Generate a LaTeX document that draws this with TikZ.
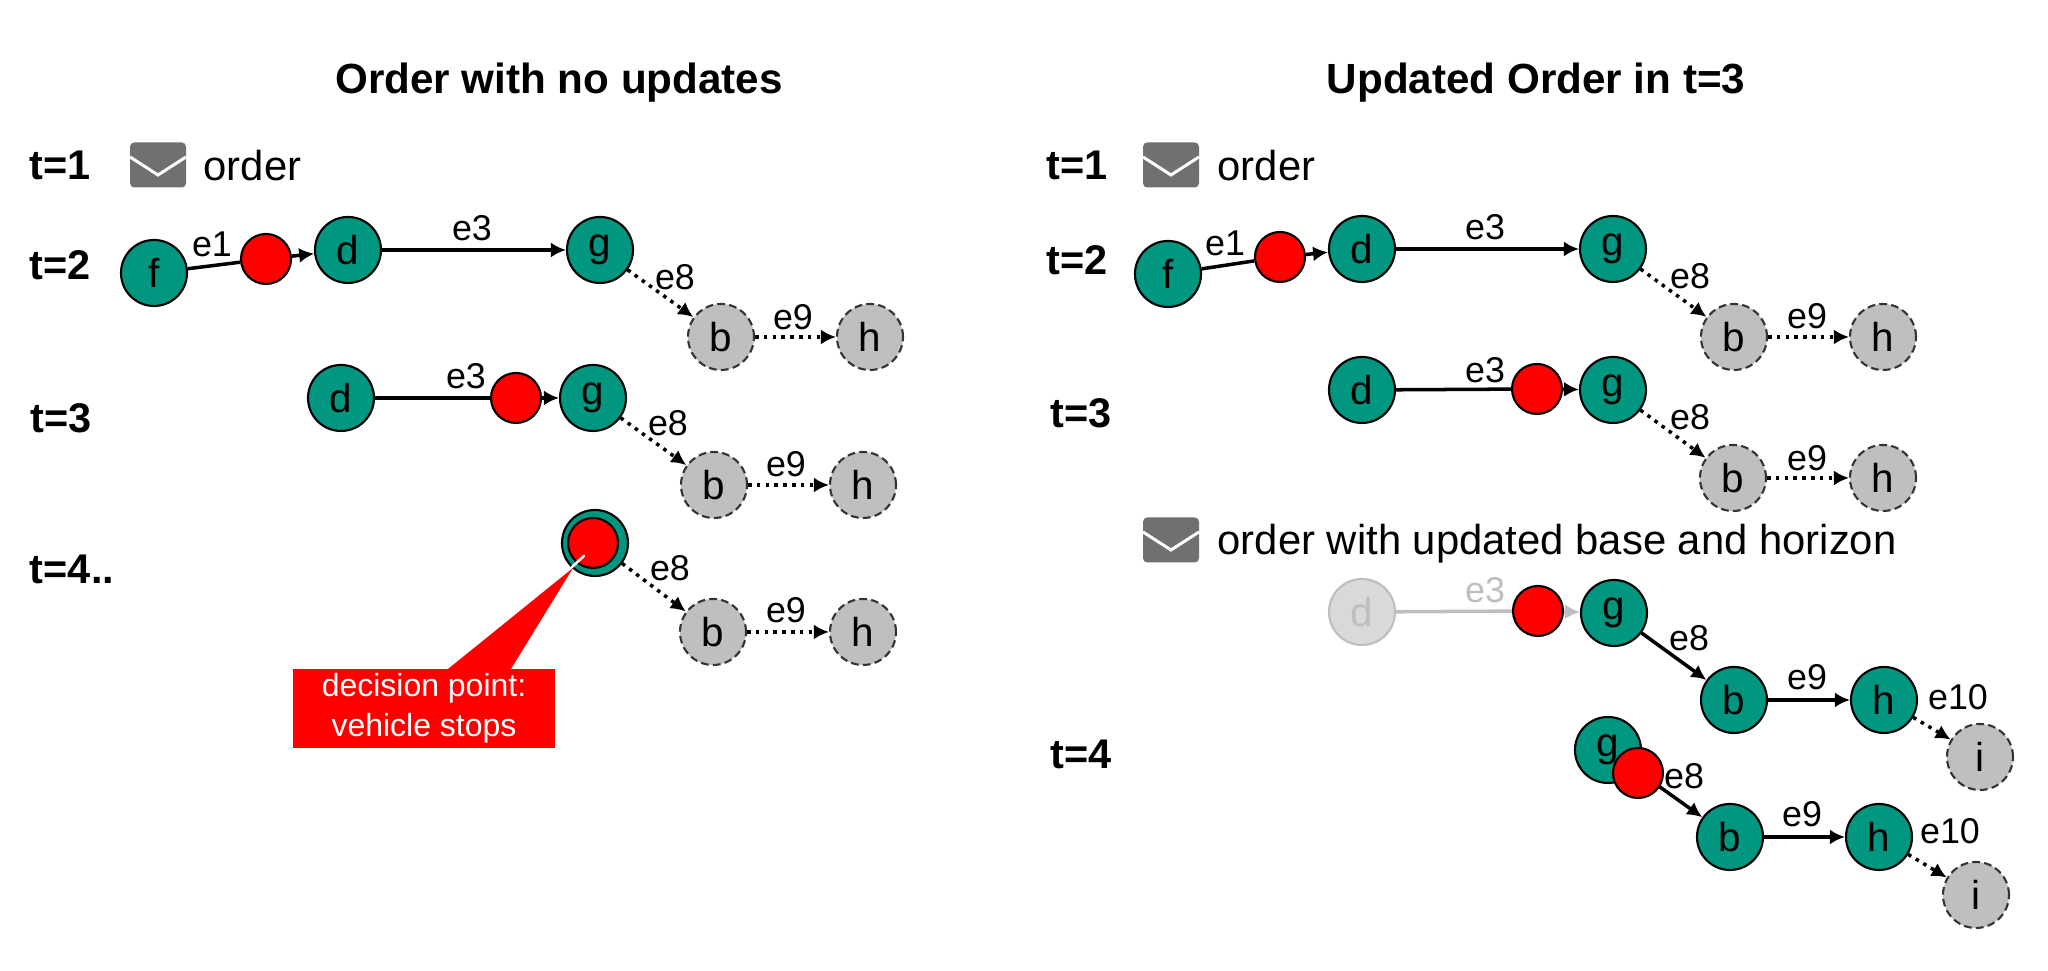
\documentclass[tikz,border=0pt]{standalone}
\usepackage{fontspec}
\setmainfont{Liberation Sans}
\usetikzlibrary{positioning,calc,arrows.meta}

\definecolor{tealnode}{RGB}{0,150,128}
\definecolor{graynode}{RGB}{191,191,191}
\definecolor{mailgray}{RGB}{112,112,112}
\definecolor{fadenode}{RGB}{217,217,217}
\definecolor{fadetext}{RGB}{190,190,190}

\tikzset{
  stop/.style={circle,draw=black,line width=.6pt,fill=tealnode,minimum size=.66cm,inner sep=0pt,font=\fontsize{11.5}{11.5}\selectfont},
  planned/.style={circle,draw=black!80,line width=.6pt,dash pattern=on 2.2pt off 1.2pt,fill=graynode,minimum size=.66cm,inner sep=0pt,font=\fontsize{11.5}{11.5}\selectfont},
  faded/.style={circle,draw=fadetext,line width=.6pt,fill=fadenode,text=fadetext,minimum size=.66cm,inner sep=0pt,font=\fontsize{11.5}{11.5}\selectfont},
  vehicle/.style={circle,draw=black,line width=.6pt,fill=red,minimum size=.5cm,inner sep=0pt},
  leg/.style={line width=1pt},
  legtip/.style={leg,-{Latex[length=1.5mm,width=1.5mm]}},
  legdot/.style={legtip,dash pattern=on 1pt off 1.5pt},
  legfade/.style={draw=fadetext},
  edgelabel/.style={inner sep=0pt,font=\fontsize{10.2}{10.2}\selectfont},
  timelabel/.style={inner sep=0pt,font=\fontsize{11.8}{11.8}\selectfont\bfseries},
  headline/.style={inner sep=0pt,font=\fontsize{12}{12}\selectfont\bfseries},
  mailtext/.style={inner sep=0pt,anchor=base west,font=\fontsize{11.9}{11.9}\selectfont},
  mail/.pic={
    \fill[mailgray,rounded corners=1.2pt] (-.28,-.225) rectangle (.28,.225);
    \draw[white,line width=.85pt] (-.28,.08) -- (0,-.10) -- (.28,.08);
  }
}

\begin{document}
\begin{tikzpicture}
  \useasboundingbox (0,0) rectangle (20.48,9.71);

  % Titles
  \node[headline] (titleleft) at (5.59,8.88) {Order with no updates};
  \node[headline] (titleright) at (15.36,8.88) {Updated Order in t=3};

  % Left: time labels
  \node[timelabel] (la1) at (.60,8.06) {t=1};
  \node[timelabel] (la2) at (.60,7.06) {t=2};
  \node[timelabel] (la3) at (.61,5.53) {t=3};
  \node[timelabel] (la4) at (.72,4.02) {t=4..};

  % Left: t=1
  \pic at (1.58,8.06) {mail};
  \node[mailtext] (lorder) at (2.03,7.90) {order};

  % Left: t=2
  \node[stop] (lf) at (1.54,6.98) {f};
  \node[vehicle] (lv) at (2.66,7.12) {};
  \node[stop] (ld) at (3.48,7.21) {d};
  \node[stop] (lg) at (6.00,7.21) {g};
  \node[planned] (lb) at (7.21,6.34) {b};
  \node[planned] (lh) at (8.70,6.34) {h};
  \draw[leg] (lf) -- (lv);
  \draw[legtip] (lv) -- (ld);
  \draw[legtip] (ld) -- (lg);
  \draw[legdot] (lg) -- (lb);
  \draw[legdot] (lb) -- (lh);
  \node[edgelabel] (le1) at (2.12,7.27) {e1};
  \node[edgelabel] (le3) at (4.72,7.43) {e3};
  \node[edgelabel] (le8) at (6.75,6.94) {e8};
  \node[edgelabel] (le9) at (7.93,6.54) {e9};

  % Left: t=3
  \node[stop] (md) at (3.41,5.73) {d};
  \node[vehicle] (mv) at (5.16,5.73) {};
  \node[stop] (mg) at (5.93,5.73) {g};
  \node[planned] (mb) at (7.14,4.86) {b};
  \node[planned] (mh) at (8.63,4.86) {h};
  \draw[leg] (md) -- (mv);
  \draw[legtip] (mv) -- (mg);
  \draw[legdot] (mg) -- (mb);
  \draw[legdot] (mb) -- (mh);
  \node[edgelabel] (me3) at (4.66,5.95) {e3};
  \node[edgelabel] (me8) at (6.68,5.48) {e8};
  \node[edgelabel] (me9) at (7.86,5.07) {e9};

  % Left: t=4
  \node[stop] (ng) at (5.95,4.28) {};
  \node[planned] (nb) at (7.13,3.39) {b};
  \node[planned] (nh) at (8.63,3.39) {h};
  \draw[legdot] (ng) -- (nb);
  \draw[legdot] (nb) -- (nh);
  \node[vehicle] (nv) at (5.93,4.28) {};
  \node[edgelabel] (ne8) at (6.70,4.03) {e8};
  \node[edgelabel] (ne9) at (7.86,3.61) {e9};

  % Callout
  \fill[red] (4.48,3.02) -- (5.73,4.03) -- (5.11,3.02) -- cycle;
  \draw[white,line width=.7pt,line cap=round] (5.72,4.04) -- (5.84,4.15);
  \node[fill=red,text=white,minimum width=2.62cm,minimum height=.79cm,align=center,inner sep=0pt,font=\fontsize{9.1}{11.4}\selectfont] (callout) at (4.24,2.625) {decision point:\\vehicle stops};

  % Right: time labels
  \node[timelabel] (ra1) at (10.77,8.06) {t=1};
  \node[timelabel] (ra2) at (10.77,7.11) {t=2};
  \node[timelabel] (ra3) at (10.81,5.58) {t=3};
  \node[timelabel] (ra4) at (10.81,2.17) {t=4};

  % Right: t=1
  \pic at (11.71,8.06) {mail};
  \node[mailtext] (rorder) at (12.17,7.90) {order};

  % Right: t=2
  \node[stop] (rf) at (11.68,6.97) {f};
  \node[vehicle] (rv) at (12.80,7.14) {};
  \node[stop] (rd) at (13.62,7.22) {d};
  \node[stop] (rg) at (16.13,7.22) {g};
  \node[planned] (rb) at (17.34,6.34) {b};
  \node[planned] (rh) at (18.83,6.34) {h};
  \draw[leg] (rf) -- (rv);
  \draw[legtip] (rv) -- (rd);
  \draw[legtip] (rd) -- (rg);
  \draw[legdot] (rg) -- (rb);
  \draw[legdot] (rb) -- (rh);
  \node[edgelabel] (re1) at (12.25,7.28) {e1};
  \node[edgelabel] (re3) at (14.85,7.44) {e3};
  \node[edgelabel] (re8) at (16.90,6.95) {e8};
  \node[edgelabel] (re9) at (18.07,6.55) {e9};

  % Right: t=3
  \node[stop] (sd) at (13.62,5.81) {d};
  \node[vehicle] (sv) at (15.37,5.82) {};
  \node[stop] (sg) at (16.13,5.81) {g};
  \node[planned] (sb) at (17.33,4.93) {b};
  \node[planned] (sh) at (18.83,4.93) {h};
  \draw[leg] (sd) -- (sv);
  \draw[legtip] (sv) -- (sg);
  \draw[legdot] (sg) -- (sb);
  \draw[legdot] (sb) -- (sh);
  \node[edgelabel] (se3) at (14.85,6.01) {e3};
  \node[edgelabel] (se8) at (16.90,5.54) {e8};
  \node[edgelabel] (se9) at (18.07,5.13) {e9};

  % Right: update
  \pic at (11.71,4.31) {mail};
  \node[mailtext] (rupdate) at (12.17,4.16) {order with updated base and horizon};

  % Right: before the stop
  \node[faded] (ud) at (13.62,3.59) {d};
  \node[vehicle] (uv) at (15.38,3.60) {};
  \node[stop] (ug) at (16.14,3.58) {g};
  \node[stop] (ub) at (17.34,2.71) {b};
  \node[stop] (uh) at (18.84,2.71) {h};
  \node[planned] (ui) at (19.80,2.14) {i};
  \draw[leg,legfade] (ud) -- (uv);
  \draw[legtip,legfade] (uv) -- (ug);
  \draw[legtip] (ug) -- (ub);
  \draw[legtip] (ub) -- (uh);
  \draw[legdot] (uh) -- (ui);
  \node[edgelabel,text=fadetext] (ue3) at (14.85,3.81) {e3};
  \node[edgelabel] (ue8) at (16.89,3.33) {e8};
  \node[edgelabel] (ue9) at (18.07,2.94) {e9};
  \node[edgelabel] (ue10) at (19.58,2.74) {e10};

  % Right: t=4
  \node[stop] (wg) at (16.08,2.21) {g};
  \node[stop] (wb) at (17.30,1.34) {b};
  \node[stop] (wh) at (18.79,1.34) {h};
  \node[planned] (wi) at (19.76,.76) {i};
  \draw[legtip] (wg) -- (wb);
  \draw[legtip] (wb) -- (wh);
  \draw[legdot] (wh) -- (wi);
  \node[vehicle] (wv) at (16.38,1.98) {};
  \node[edgelabel] (we8) at (16.84,1.95) {e8};
  \node[edgelabel] (we9) at (18.02,1.57) {e9};
  \node[edgelabel] (we10) at (19.50,1.40) {e10};
\end{tikzpicture}
\end{document}
